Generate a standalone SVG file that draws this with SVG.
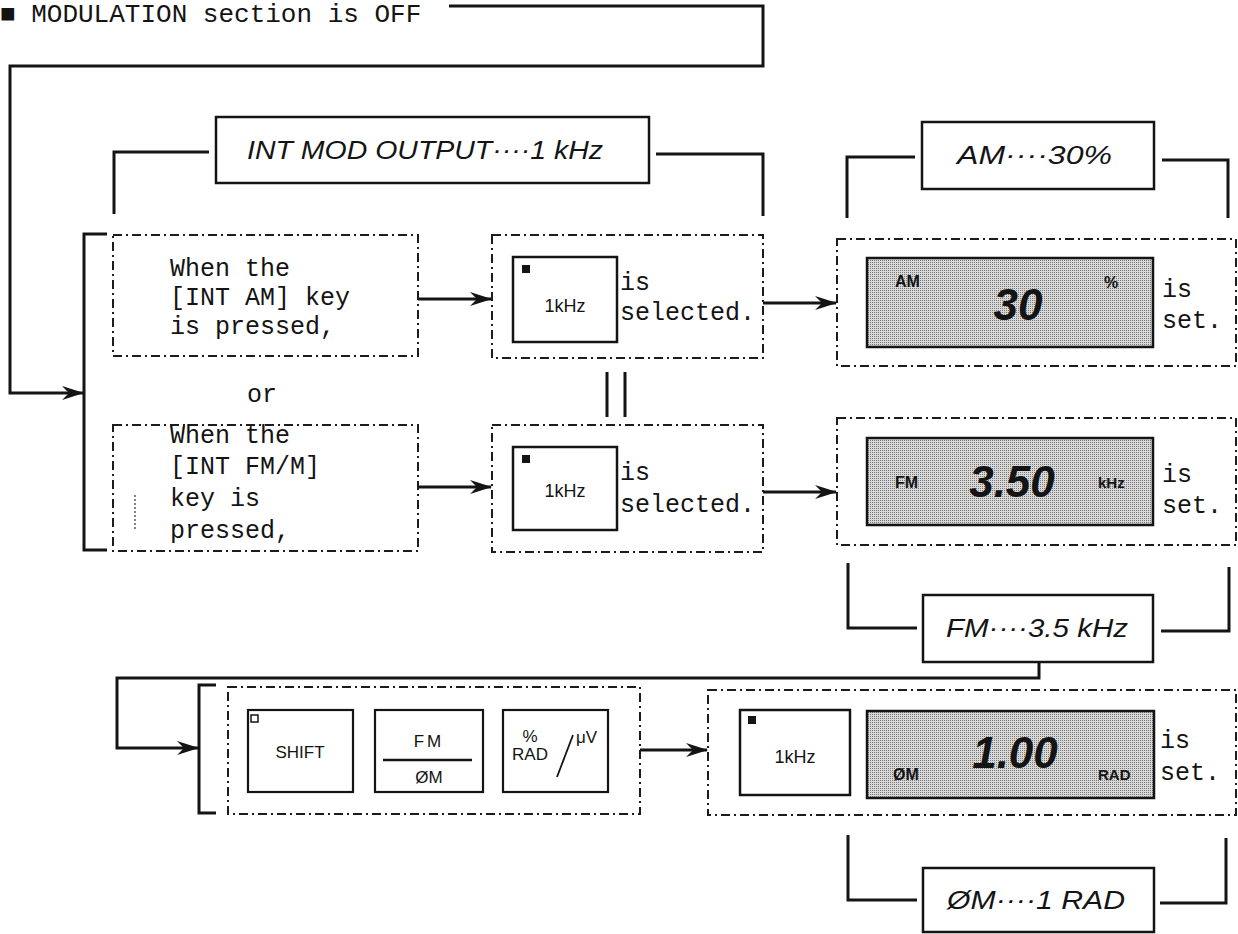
<svg xmlns="http://www.w3.org/2000/svg" width="1238" height="934" viewBox="0 0 1238 934">
<style>
.ln{fill:none;stroke:#141414;stroke-width:3}
.dsh{fill:none;stroke:#1c1c1c;stroke-width:2;stroke-dasharray:9 4 2 4}
.box{fill:#fff;stroke:#141414;stroke-width:2.5}
.key{fill:#fff;stroke:#141414;stroke-width:2.2}
.disp{fill:url(#ht);stroke:#141414;stroke-width:2.5}
.mono{font-family:"Liberation Mono","DejaVu Sans Mono",monospace;font-size:25px;fill:#141414}
.lbl{font-family:"Liberation Sans",Arial,sans-serif;font-style:italic;font-size:25px;fill:#141414}
.ks{font-family:"Liberation Sans",Arial,sans-serif;font-size:17px;fill:#141414}
.kz{font-family:"Liberation Sans",Arial,sans-serif;font-size:18px;fill:#141414}
.dl{font-family:"Liberation Sans",Arial,sans-serif;font-weight:bold;font-size:16px;fill:#141414}
.big{font-family:"Liberation Sans",Arial,sans-serif;font-weight:bold;font-style:italic;font-size:44px;fill:#141414}
</style>
<defs>
<pattern id="ht" width="2" height="2" patternUnits="userSpaceOnUse">
<rect width="2" height="2" fill="#d8d8d8"/>
<rect width="1" height="1" fill="#7a7a7a"/>
</pattern>
<marker id="ah" viewBox="0 0 22 14" refX="21" refY="7" markerWidth="22" markerHeight="14" markerUnits="userSpaceOnUse" orient="auto">
<path d="M0,0 L22,7 L0,14 L7,7 Z" fill="#141414"/>
</marker>
</defs>
<rect width="1238" height="934" fill="#fff"/>

<g id="header">
<text class="mono" x="0" y="22" style="font-size:26px">■ MODULATION section is OFF</text>
</g>

<g id="connectors">
<path class="ln" d="M449,6 H763 V66 H10 V393 H83" marker-end="url(#ah)"/>
<path class="ln" d="M107,234 H84 V550 H107"/>
<path class="ln" d="M114,214 V152 H209"/>
<path class="ln" d="M656,154 H763 V216"/>
<path class="ln" d="M847,218 V157 H915"/>
<path class="ln" d="M1162,160 H1228 V218"/>
<path class="ln" d="M418,299 H491" marker-end="url(#ah)"/>
<path class="ln" d="M763,303 H836" marker-end="url(#ah)"/>
<path class="ln" d="M418,487 H491" marker-end="url(#ah)"/>
<path class="ln" d="M763,492 H836" marker-end="url(#ah)"/>
<path class="ln" d="M607,372 V417 M625,372 V417"/>
<path class="ln" d="M848,563 V628 H917"/>
<path class="ln" d="M1161,631 H1229 V567"/>
<path class="ln" d="M1039,662 V678 H117 V748 H198" marker-end="url(#ah)"/>
<path class="ln" d="M216,685 H199 V813 H216"/>
<path class="ln" d="M640,750 H707" marker-end="url(#ah)"/>
<path class="ln" d="M848,835 V900 H917"/>
<path class="ln" d="M1160,903 H1226 V838"/>
</g>

<g id="int-mod-output">
<rect class="box" x="216" y="117" width="433" height="66"/>
<text class="lbl" x="247" y="159" textLength="356" lengthAdjust="spacingAndGlyphs">INT MOD OUTPUT····1 kHz</text>
</g>

<g id="am-label">
<rect class="box" x="922" y="122" width="232" height="67"/>
<text class="lbl" x="957" y="164" textLength="155" lengthAdjust="spacingAndGlyphs">AM····30%</text>
</g>

<g id="int-am-key">
<rect class="dsh" x="113" y="235" width="305" height="121"/>
<text class="mono" x="170" y="276">When the</text>
<text class="mono" x="170" y="305">[INT AM] key</text>
<text class="mono" x="170" y="334">is pressed,</text>
</g>

<g id="or-text">
<text class="mono" x="247" y="402">or</text>
</g>

<g id="int-fm-key">
<rect class="dsh" x="113" y="425" width="305" height="126"/>
<path d="M135,495 V530" fill="none" stroke="#333" stroke-width="1.2" stroke-dasharray="2 2"/>
<text class="mono" x="170" y="443">When the</text>
<text class="mono" x="170" y="474">[INT FM/M]</text>
<text class="mono" x="170" y="506">key is</text>
<text class="mono" x="170" y="538">pressed,</text>
</g>

<g id="selected-1">
<rect class="dsh" x="492" y="235" width="271" height="123"/>
<rect class="box" x="513" y="257" width="104" height="85"/>
<rect x="522" y="265" width="8" height="8" fill="#141414"/>
<text class="kz" x="565" y="312" text-anchor="middle">1kHz</text>
<text class="mono" x="620" y="290">is</text>
<text class="mono" x="620" y="320">selected.</text>
</g>

<g id="selected-2">
<rect class="dsh" x="492" y="425" width="271" height="127"/>
<rect class="box" x="513" y="447" width="104" height="83"/>
<rect x="522" y="455" width="8" height="8" fill="#141414"/>
<text class="kz" x="565" y="497" text-anchor="middle">1kHz</text>
<text class="mono" x="620" y="480">is</text>
<text class="mono" x="620" y="512">selected.</text>
</g>

<g id="am-set">
<rect class="dsh" x="837" y="239" width="399" height="127"/>
<rect class="disp" x="867" y="258" width="286" height="89"/>
<text class="dl" x="895" y="287">AM</text>
<text class="dl" x="1104" y="288">%</text>
<text class="big" x="1018" y="320" text-anchor="middle">30</text>
<text class="mono" x="1162" y="297">is</text>
<text class="mono" x="1162" y="328">set.</text>
</g>

<g id="fm-set">
<rect class="dsh" x="837" y="418" width="399" height="127"/>
<rect class="disp" x="867" y="438" width="286" height="87"/>
<text class="dl" x="895" y="488">FM</text>
<text class="dl" x="1098" y="488" style="font-size:15px">kHz</text>
<text class="big" x="1012" y="497" text-anchor="middle">3.50</text>
<text class="mono" x="1162" y="482">is</text>
<text class="mono" x="1162" y="513">set.</text>
</g>

<g id="fm-label">
<rect class="box" x="923" y="595" width="230" height="67"/>
<text class="lbl" x="946" y="637" textLength="182" lengthAdjust="spacingAndGlyphs">FM····3.5 kHz</text>
</g>

<g id="key-sequence">
<rect class="dsh" x="228" y="687" width="412" height="127"/>
<rect class="key" x="248" y="710" width="105" height="82"/>
<rect x="251" y="715" width="7" height="7" fill="none" stroke="#141414" stroke-width="1.5"/>
<text class="ks" x="300" y="758" text-anchor="middle">SHIFT</text>
<rect class="key" x="375" y="710" width="108" height="82"/>
<text class="ks" x="429" y="747" text-anchor="middle" letter-spacing="3">FM</text>
<path d="M383,760 H472" stroke="#141414" stroke-width="2.5"/>
<text class="ks" x="429" y="783" text-anchor="middle">ØM</text>
<rect class="key" x="503" y="710" width="105" height="82"/>
<text class="ks" x="530" y="742" text-anchor="middle">%</text>
<text class="ks" x="530" y="760" text-anchor="middle">RAD</text>
<path d="M573,735 L557,777" stroke="#141414" stroke-width="1.8"/>
<text class="ks" x="576" y="743">μV</text>
</g>

<g id="pm-set">
<rect class="dsh" x="708" y="690" width="528" height="125"/>
<rect class="box" x="740" y="710" width="110" height="85"/>
<rect x="748" y="716" width="8" height="8" fill="#141414"/>
<text class="kz" x="795" y="763" text-anchor="middle">1kHz</text>
<rect class="disp" x="867" y="711" width="287" height="87"/>
<text class="dl" x="893" y="780">ØM</text>
<text class="dl" x="1098" y="780" style="font-size:15px">RAD</text>
<text class="big" x="1015" y="768" text-anchor="middle">1.00</text>
<text class="mono" x="1160" y="748">is</text>
<text class="mono" x="1160" y="780">set.</text>
</g>

<g id="pm-label">
<rect class="box" x="923" y="868" width="231" height="64"/>
<text class="lbl" x="947" y="909" textLength="178" lengthAdjust="spacingAndGlyphs">ØM····1 RAD</text>
</g>
</svg>
